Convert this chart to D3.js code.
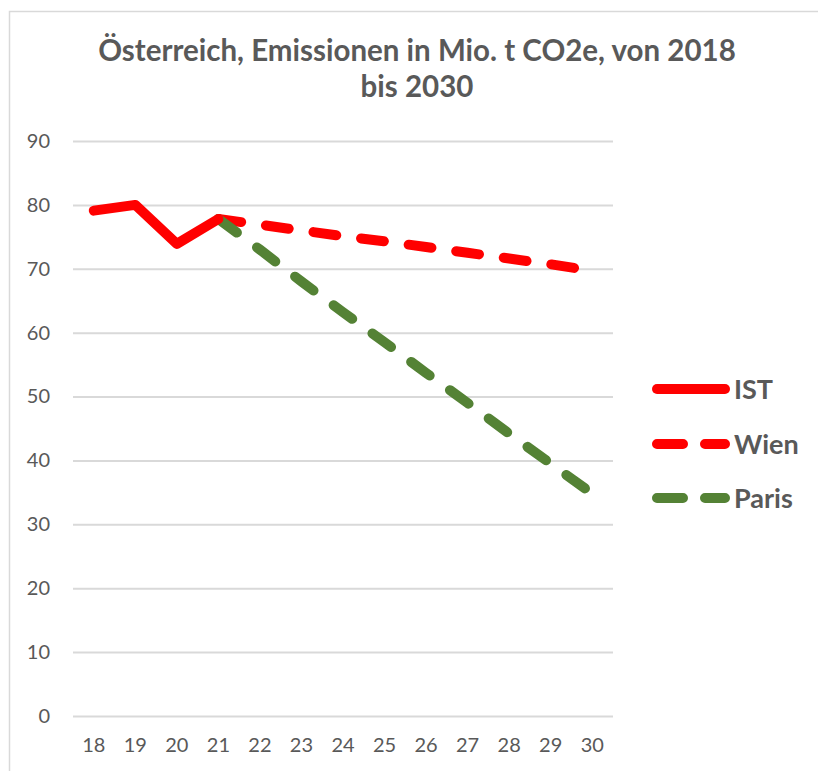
<!DOCTYPE html>
<html>
<head>
<meta charset="utf-8">
<script src="https://cdn.jsdelivr.net/npm/d3@7"></script>
<style>
  body { margin: 0; background: #fff; }
  text { font-family: Lato, "Open Sans", sans-serif; fill: #595959; }
</style>
</head>
<body>
<script>
// Daten
const years = ['18', '19', '20', '21', '22', '23', '24', '25', '26', '27', '28', '29', '30'];
const ist = [79.1, 80.0, 73.9, 77.8];
const wien = [77.8, 76.9, 76.0, 75.1, 74.3, 73.4, 72.5, 71.6, 70.7, 69.7];
const paris = [77.8, 73.0, 68.0, 63.2, 58.5, 53.7, 49.0, 44.2, 39.5, 34.8];
const yTicks = [0, 10, 20, 30, 40, 50, 60, 70, 80, 90];

const width = 818;
const height = 771;
const plot = { left: 73, right: 613, top: 141, bottom: 716 };
const lw = 10;

const svg = d3.select('body')
    .append('svg')
    .attr('width', width)
    .attr('height', height);

// Rahmen
svg.append('rect')
    .attr('x', 9.5).attr('y', 11.5)
    .attr('width', 830).attr('height', 800)
    .attr('fill', 'none')
    .attr('stroke', '#d9d9d9')
    .attr('stroke-width', 1.5);

// Titel
const title = svg.append('text')
    .attr('text-anchor', 'middle')
    .style('font-weight', 'bold')
    .style('font-size', '29.5px');
title.append('tspan').attr('x', 417).attr('y', 61)
    .text('Österreich, Emissionen in Mio. t CO2e, von 2018');
title.append('tspan').attr('x', 417).attr('y', 97)
    .text('bis 2030');

const xScale = d3.scaleBand()
    .domain(years)
    .range([plot.left, plot.right]);

const yScale = d3.scaleLinear()
    .domain([0, 90])
    .range([plot.bottom, plot.top]);

const xPos = d => xScale(d) + xScale.bandwidth() / 2;

// Gitterlinien + y-Achse
const yAxis = d3.axisLeft(yScale)
    .tickValues(yTicks)
    .tickSize(-(plot.right - plot.left))
    .tickPadding(23);

svg.append('g')
    .attr('transform', 'translate(' + plot.left + ', 0)')
    .call(yAxis)
    .call(g => g.select('.domain').remove())
    .call(g => g.selectAll('line').attr('stroke', '#d9d9d9').attr('stroke-width', 2))
    .call(g => g.selectAll('text').style('font-size', '20px').attr('fill', '#595959'));

// x-Achse
const xAxis = d3.axisBottom(xScale).tickSize(0).tickPadding(22);

svg.append('g')
    .attr('transform', 'translate(0, ' + plot.bottom + ')')
    .call(xAxis)
    .call(g => g.select('.domain').remove())
    .call(g => g.selectAll('text').style('font-size', '20px').attr('fill', '#595959'));

const line = d3.line()
    .x(d => xPos(d.year))
    .y(d => yScale(d.value));

const series = [
    { name: 'IST', color: '#ff0000', dash: null, start: 0, values: ist },
    { name: 'Wien', color: '#ff0000', dash: '23,25', start: 3, values: wien },
    { name: 'Paris', color: '#548235', dash: '23,25', start: 3, values: paris }
];

// Linien (Wien zuerst, dann Paris, dann IST oben)
const drawOrder = [series[1], series[2], series[0]];
svg.selectAll('path.series')
    .data(drawOrder)
    .enter()
    .append('path')
    .attr('class', 'series')
    .attr('fill', 'none')
    .attr('stroke', d => d.color)
    .attr('stroke-width', lw)
    .attr('stroke-linecap', 'round')
    .attr('stroke-linejoin', 'round')
    .attr('stroke-dasharray', d => d.dash)
    .attr('d', d => line(d.values.map((v, i) => ({ year: years[d.start + i], value: v }))));

// Legende
const legendY = [389, 444, 498];
const legend = svg.selectAll('g.legend')
    .data(series)
    .enter()
    .append('g')
    .attr('class', 'legend')
    .attr('transform', (d, i) => 'translate(0, ' + legendY[i] + ')');

legend.append('line')
    .attr('x1', 657).attr('x2', 725)
    .attr('stroke', d => d.color)
    .attr('stroke-width', lw)
    .attr('stroke-linecap', 'round')
    .attr('stroke-dasharray', d => d.dash ? '26,22' : null);

legend.append('text')
    .attr('x', 734)
    .attr('dy', '0.36em')
    .style('font-weight', 'bold')
    .style('font-size', '27px')
    .text(d => d.name);
</script>
</body>
</html>
